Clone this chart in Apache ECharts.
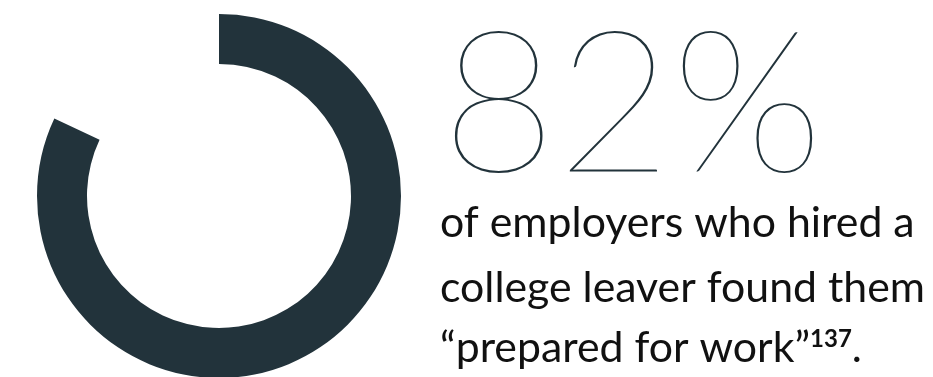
<!DOCTYPE html>
<html>
<head>
<meta charset="utf-8">
<script src="https://cdn.jsdelivr.net/npm/echarts@6/dist/echarts.min.js"></script>
<style>
html,body{margin:0;padding:0;background:#fff;}
#c{width:933px;height:377px;}
</style>
</head>
<body>
<div id="c"></div>
<script>
const shareValue = 82;
const restValue = 18;
const bigLabel = '82%';
const lines = ['of employers who hired a', 'college leaver found them', '\u201cprepared for work\u201d'];
const footnote = '137';

const chart = echarts.init(document.getElementById('c'), null, {renderer: 'canvas'});
const dark = '#22333b';
const ink = '#111111';
chart.setOption({
  animation: false,
  backgroundColor: '#ffffff',
  series: [{
    type: 'pie',
    silent: true,
    center: [219, 196],
    radius: [132, 182],
    startAngle: 90,
    clockwise: true,
    label: {show: false},
    labelLine: {show: false},
    emphasis: {disabled: true},
    data: [
      {value: shareValue, itemStyle: {color: dark}},
      {value: restValue, itemStyle: {color: 'rgba(0,0,0,0)'}}
    ]
  }],
  graphic: [
    {type: 'text', x: 441, y: 108, style: {text: bigLabel, font: '100 199px Lato', fill: dark, verticalAlign: 'middle'}},
    {type: 'text', x: 440, y: 245, style: {text: lines[0], fontFamily: 'Lato', fontSize: 42.8, fill: ink, verticalAlign: 'bottom'}},
    {type: 'text', x: 440, y: 310, style: {text: lines[1], fontFamily: 'Lato', fontSize: 42.8, fill: ink, verticalAlign: 'bottom'}},
    {type: 'text', x: 440, y: 370, style: {
      text: '{a|' + lines[2] + '}{s|' + footnote + '}{a|.}',
      fontFamily: 'Lato', fontSize: 42.8, fill: ink, verticalAlign: 'bottom',
      rich: {
        a: {fontFamily: 'Lato', fontSize: 42.8, color: ink},
        s: {fontFamily: 'Lato', fontSize: 24, fontWeight: 'bold', color: ink, verticalAlign: 'top', padding: [0, 0, 18, 0]}
      }
    }}
  ]
});
</script>
</body>
</html>
